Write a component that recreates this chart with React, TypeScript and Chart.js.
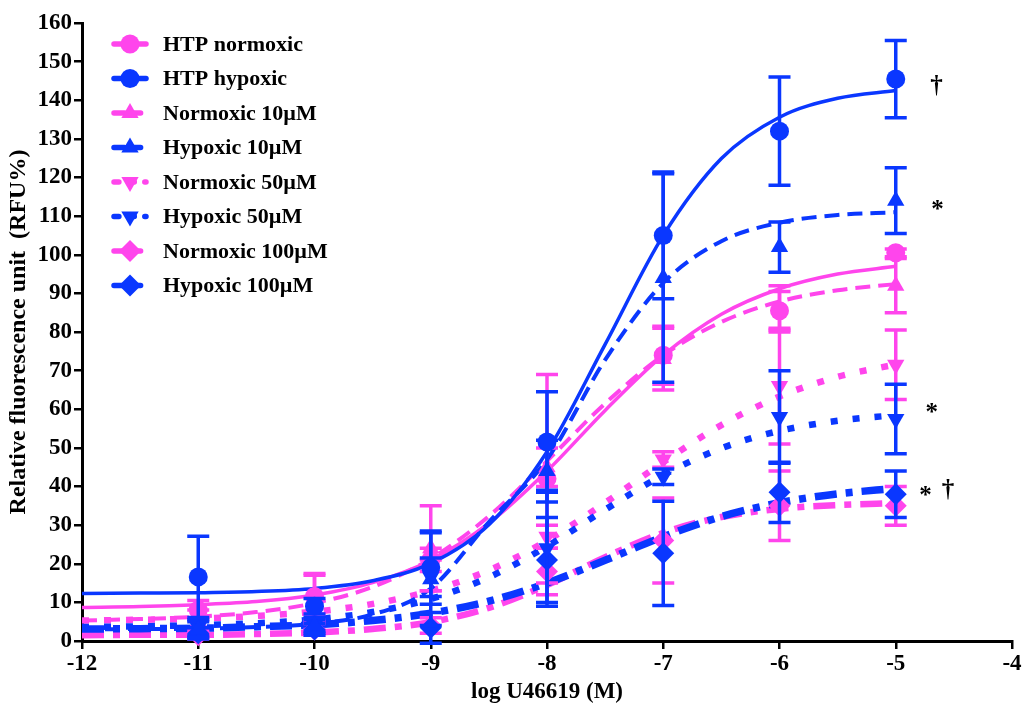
import React, { useEffect, useRef } from 'react';
import { Chart, registerables } from 'chart.js';

Chart.register(...registerables);

const PINK = '#FF45EC';
const BLUE = '#0A37FF';
const FONT = "'Liberation Serif', 'Times New Roman', serif";

// Agonist concentrations (log M) at which responses were measured
const doses = [-11, -10, -9, -8, -7, -6, -5];

// Mean responses (RFU%) and SEM for each group
const htpNormMean = [8, 11.5, 21, 42, 74, 85.5, 100.5];
const htpNormSem = [2.5, 6, 3, 27, 7.5, 5, 1];
const htpHypMean = [16.6, 9, 19, 51.5, 105, 132, 145.5];
const htpHypSem = [10.5, 2, 9.5, 13, 16.4, 14, 10];
const norm10Mean = [5, 11, 24, 45, 73, 86, 92];
const norm10Sem = [3, 6, 11, 5, 8, 6, 7];
const hyp10Mean = [3, 4, 16, 44, 94, 102, 114];
const hyp10Sem = [2, 2, 12, 8, 27, 6.5, 8.5];
const norm50Mean = [4, 5, 17, 27, 47, 66, 71.5];
const norm50Sem = [2, 2, 4, 3, 2, 15, 9];
const hyp50Mean = [3.5, 4, 16.5, 24, 42.5, 58, 57.5];
const hyp50Sem = [2, 1.5, 5, 15, 2, 12, 9];
const norm100Mean = [1.5, 3, 4, 18, 26, 35, 35];
const norm100Sem = [1, 1.5, 2, 6, 11, 9, 5];
const hyp100Mean = [2, 3, 3.4, 21, 22.7, 38.5, 38];
const hyp100Sem = [1.5, 1.5, 4, 11, 13.5, 7.8, 6];

// Fitted concentration-response curves, sampled every half log unit
const fitX = [-12, -11.5, -11, -10.5, -10, -9.5, -9, -8.5, -8, -7.5, -7, -6.5, -6, -5.5, -5];
const htpNormFit = [8.7, 8.9, 9.4, 10.2, 11.9, 15.1, 20.9, 30.5, 44.0, 59.7, 74.0, 84.6, 91.2, 95.0, 97.0];
const htpHypFit = [12.3, 12.4, 12.5, 12.8, 13.6, 15.6, 20.1, 30.1, 49.0, 76.8, 105.0, 124.9, 135.6, 140.5, 142.5];
const norm10Fit = [5.3, 5.7, 6.3, 7.5, 9.8, 14.0, 21.3, 32.3, 46.6, 61.5, 74.0, 82.6, 87.9, 90.8, 92.4];
const hyp10Fit = [3.0, 3.1, 3.2, 3.6, 4.5, 6.9, 13.6, 30.8, 47.0, 72.8, 92.7, 103.5, 108.3, 110.3, 111.0];
const norm50Fit = [5.3, 5.5, 5.8, 6.5, 7.6, 9.6, 13.0, 18.3, 26.0, 35.8, 46.3, 55.9, 63.3, 68.4, 71.6];
const hyp50Fit = [3.6, 3.8, 4.1, 4.6, 5.6, 7.5, 10.9, 16.5, 24.5, 34.0, 43.0, 49.9, 54.4, 57.0, 58.5];
const norm100Fit = [1.5, 1.6, 1.6, 1.8, 2.2, 3.1, 4.9, 8.6, 14.5, 21.7, 28.0, 32.1, 34.2, 35.2, 35.7];
const hyp100Fit = [3.1, 3.2, 3.3, 3.7, 4.2, 5.3, 7.2, 10.3, 15.0, 20.9, 27.0, 32.2, 35.8, 38.1, 39.5];

// Axis ticks
const xTickValues = [-12, -11, -10, -9, -8, -7, -6, -5, -4];
const xTickLabels = ['-12', '-11', '-10', '-9', '-8', '-7', '-6', '-5', '-4'];
const yTickValues = [0, 10, 20, 30, 40, 50, 60, 70, 80, 90, 100, 110, 120, 130, 140, 150, 160];

// Significance marks beside the top concentration
const markX = [-4.65, -4.64, -4.69, -4.745, -4.55];
const markY = [143.5, 111.5, 58.8, 37.5, 39];
const markText = ['†', '*', '*', '*', '†'];

type Series = {
  label: string;
  color: string;
  mean: number[];
  sem: number[];
  fit: number[];
  pointStyle: string;
  rotation: number;
  radius: number;
  dash: number[];
  width: number;
};

const series: Series[] = [
  { label: 'HTP normoxic', color: PINK, mean: htpNormMean, sem: htpNormSem, fit: htpNormFit, pointStyle: 'circle', rotation: 0, radius: 9.5, dash: [], width: 3.5 },
  { label: 'HTP hypoxic', color: BLUE, mean: htpHypMean, sem: htpHypSem, fit: htpHypFit, pointStyle: 'circle', rotation: 0, radius: 9.5, dash: [], width: 3.5 },
  { label: 'Normoxic 10µM', color: PINK, mean: norm10Mean, sem: norm10Sem, fit: norm10Fit, pointStyle: 'triangle', rotation: 0, radius: 10, dash: [15, 8], width: 4 },
  { label: 'Hypoxic 10µM', color: BLUE, mean: hyp10Mean, sem: hyp10Sem, fit: hyp10Fit, pointStyle: 'triangle', rotation: 0, radius: 10, dash: [15, 8], width: 4 },
  { label: 'Normoxic 50µM', color: PINK, mean: norm50Mean, sem: norm50Sem, fit: norm50Fit, pointStyle: 'triangle', rotation: 180, radius: 10, dash: [7, 15], width: 6.5 },
  { label: 'Hypoxic 50µM', color: BLUE, mean: hyp50Mean, sem: hyp50Sem, fit: hyp50Fit, pointStyle: 'triangle', rotation: 180, radius: 10, dash: [7, 15], width: 6.5 },
  { label: 'Normoxic 100µM', color: PINK, mean: norm100Mean, sem: norm100Sem, fit: norm100Fit, pointStyle: 'rectRot', rotation: 0, radius: 11, dash: [22, 9, 7, 9], width: 6.5 },
  { label: 'Hypoxic 100µM', color: BLUE, mean: hyp100Mean, sem: hyp100Sem, fit: hyp100Fit, pointStyle: 'rectRot', rotation: 0, radius: 11, dash: [22, 9, 7, 9], width: 7.5 },
];

// Vertical SEM bars with caps, drawn just under each group's markers
const errorBarPlugin = {
  id: 'errorBars',
  beforeDatasetDraw(chart: any, args: any) {
    const ds = chart.data.datasets[args.index];
    if (!ds.errors) return;
    const { ctx } = chart;
    const x = chart.scales.x;
    const y = chart.scales.y;
    ctx.save();
    ctx.strokeStyle = ds.borderColor;
    ctx.lineWidth = 3.5;
    ctx.setLineDash([]);
    ds.data.forEach((p: any, i: number) => {
      const e = ds.errors[i];
      if (!e) return;
      const px = x.getPixelForValue(p.x);
      const top = y.getPixelForValue(p.y + e);
      const bot = y.getPixelForValue(p.y - e);
      ctx.beginPath();
      ctx.moveTo(px, top);
      ctx.lineTo(px, bot);
      ctx.moveTo(px - 11, top);
      ctx.lineTo(px + 11, top);
      ctx.moveTo(px - 11, bot);
      ctx.lineTo(px + 11, bot);
      ctx.stroke();
    });
    ctx.restore();
  },
};

function drawMarker(ctx: CanvasRenderingContext2D, s: Series, x: number, y: number) {
  const r = s.radius;
  ctx.beginPath();
  if (s.pointStyle === 'circle') {
    ctx.arc(x, y, r, 0, Math.PI * 2);
  } else if (s.pointStyle === 'triangle') {
    const sign = s.rotation === 180 ? -1 : 1;
    for (let k = 0; k < 3; k++) {
      const a = (k * 2 * Math.PI) / 3;
      const vx = x + Math.sin(a) * r;
      const vy = y - sign * Math.cos(a) * r;
      if (k === 0) ctx.moveTo(vx, vy);
      else ctx.lineTo(vx, vy);
    }
    ctx.closePath();
  } else {
    ctx.moveTo(x, y - r);
    ctx.lineTo(x + r, y);
    ctx.lineTo(x, y + r);
    ctx.lineTo(x - r, y);
    ctx.closePath();
  }
  ctx.fill();
}

// Legend block and significance marks
const overlayPlugin = {
  id: 'overlay',
  afterDraw(chart: any) {
    const { ctx, chartArea } = chart;
    const x = chart.scales.x;
    const y = chart.scales.y;
    ctx.save();
    const left = chartArea.left + 30;
    const top = chartArea.top + 21;
    const gap = 34.5;
    series.forEach((s, i) => {
      const cy = top + i * gap;
      ctx.strokeStyle = s.color;
      ctx.fillStyle = s.color;
      ctx.lineWidth = 5.5;
      ctx.lineCap = 'round';
      ctx.setLineDash(s.dash.length ? s.dash.map((d) => d * 0.7) : []);
      ctx.beginPath();
      ctx.moveTo(left + 2, cy);
      ctx.lineTo(left + 34, cy);
      ctx.stroke();
      ctx.setLineDash([]);
      drawMarker(ctx, s, left + 18, cy);
      ctx.fillStyle = '#000';
      ctx.font = `bold 22px ${FONT}`;
      ctx.textAlign = 'left';
      ctx.textBaseline = 'middle';
      ctx.fillText(s.label, left + 51, cy + 1);
    });
    ctx.fillStyle = '#000';
    ctx.font = `bold 25px ${FONT}`;
    ctx.textAlign = 'center';
    ctx.textBaseline = 'middle';
    markText.forEach((t, i) => {
      ctx.fillText(t, x.getPixelForValue(markX[i]), y.getPixelForValue(markY[i]));
    });
    ctx.restore();
  },
};

function buildDatasets() {
  const curves = series.map((s, i) => ({
    label: s.label + ' fit',
    data: fitX.map((v, k) => ({ x: v, y: s.fit[k] })),
    showLine: true,
    borderColor: s.color,
    borderWidth: s.width,
    borderDash: s.dash,
    borderCapStyle: 'butt',
    cubicInterpolationMode: 'monotone',
    pointRadius: 0,
    pointHoverRadius: 0,
    order: 20 + (s.color === PINK ? 8 : 0) + i,
  }));
  const points = series.map((s, i) => ({
    label: s.label,
    data: doses.map((v, k) => ({ x: v, y: s.mean[k] })),
    errors: s.sem,
    showLine: false,
    borderColor: s.color,
    backgroundColor: s.color,
    pointStyle: s.pointStyle,
    rotation: s.rotation,
    pointRadius: s.radius,
    pointHoverRadius: s.radius,
    pointBorderWidth: 0,
    clip: false,
    order: (s.color === PINK ? 8 : 0) + i,
  }));
  return [...curves, ...points];
}

export default function App() {
  const ref = useRef<HTMLCanvasElement>(null);

  useEffect(() => {
    if (!ref.current) return;
    const tickFont = { family: FONT, size: 23, weight: 'bold' as const };
    const chart = new Chart(ref.current, {
      type: 'scatter',
      data: { datasets: buildDatasets() as any },
      options: {
        animation: false,
        responsive: true,
        maintainAspectRatio: false,
        layout: { padding: { left: 0, right: 7, top: 23, bottom: 0 } },
        plugins: { legend: { display: false }, tooltip: { enabled: false } },
        scales: {
          x: {
            type: 'linear',
            min: -12,
            max: -4,
            afterBuildTicks(scale: any) {
              scale.ticks = xTickValues.map((v) => ({ value: v }));
            },
            afterFit(scale: any) {
              scale.height = 74;
              scale.paddingLeft = 0;
              scale.paddingRight = 0;
            },
            ticks: {
              font: tickFont,
              color: '#000',
              padding: 1,
              maxRotation: 0,
              autoSkip: false,
              callback: (v: any) => {
                const i = xTickValues.indexOf(Number(v));
                return i >= 0 ? xTickLabels[i] : '';
              },
            },
            grid: { display: true, drawOnChartArea: false, drawTicks: true, tickLength: 8, color: '#000', lineWidth: 2.5 },
            border: { display: true, color: '#000', width: 3 },
            title: {
              display: true,
              text: 'log U46619 (M)',
              color: '#000',
              font: { family: FONT, size: 23, weight: 'bold' },
              padding: { top: 0, bottom: 9 },
            },
          },
          y: {
            type: 'linear',
            min: 0,
            max: 160,
            afterBuildTicks(scale: any) {
              scale.ticks = yTickValues.map((v) => ({ value: v }));
            },
            afterFit(scale: any) {
              scale.width = 82;
              scale.paddingTop = 0;
              scale.paddingBottom = 0;
            },
            ticks: { font: tickFont, color: '#000', padding: 2, autoSkip: false },
            grid: { display: true, drawOnChartArea: false, drawTicks: true, tickLength: 8, color: '#000', lineWidth: 2.5 },
            border: { display: true, color: '#000', width: 3 },
            title: {
              display: true,
              text: 'Relative fluorescence unit  (RFU%)',
              color: '#000',
              font: { family: FONT, size: 24, weight: 'bold' },
              padding: { top: 4, bottom: 0 },
            },
          },
        },
      },
      plugins: [errorBarPlugin, overlayPlugin],
    } as any);
    return () => chart.destroy();
  }, []);

  return (
    <div style={{ position: 'absolute', left: 0, top: 0, width: 1023, height: 715, background: '#fff' }}>
      <canvas ref={ref} />
    </div>
  );
}
